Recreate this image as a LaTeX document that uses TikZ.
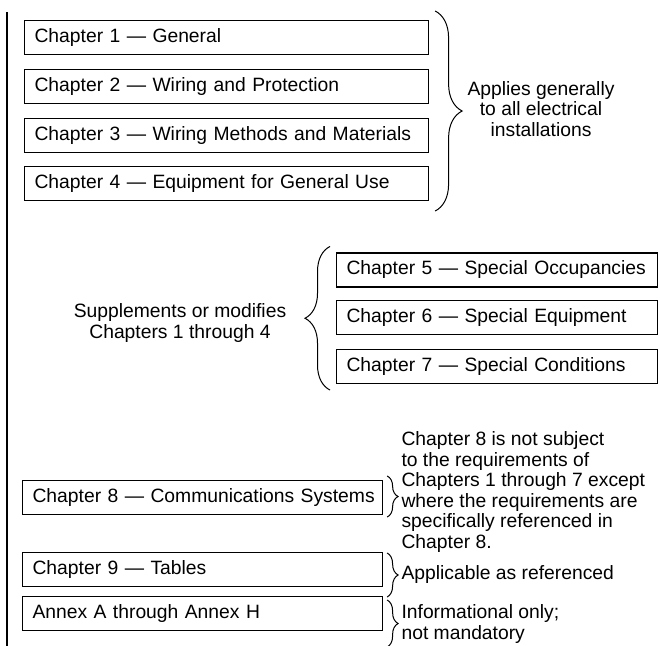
\documentclass[tikz,border=0pt]{standalone}
\usepackage{fontspec}
\setmainfont{Liberation Sans}
\usetikzlibrary{
    decorations.pathreplacing,
    calc,
    positioning
}

\tikzset{
    chap/.style={draw, line width=1.1pt, anchor=west, inner xsep=10pt, inner ysep=0pt, minimum height=34pt, align=left, text width=#1,
        execute at begin node=\hbox\bgroup, execute at end node=\egroup},
    chap/.default=384pt,
    grp/.style={decorate, decoration={brace, amplitude=#1}, line width=1pt},
    grp/.default=11pt
}

\begin{document}
\begin{tikzpicture}[x=1pt, y=-1pt, every node/.style={font=\fontsize{19.3}{20.6}\selectfont}]
                        \useasboundingbox (0,0) rectangle (660,645);
                        \coordinate (top) at (7,12);
                        \coordinate (bot) at (7,646);

                        \node[chap] (c1) at (24,37.5) {Chapter 1 — General};
                        \node[chap] (c2) at (24,86.5) {Chapter 2 — Wiring and Protection};
                        \node[chap] (c3) at (24,135.5) {Chapter 3 — Wiring Methods and Materials};
                        \node[chap] (c4) at (24,183.5) {Chapter 4 — Equipment for General Use};
                        \node[chap=301pt] (c5) at (336,270) {Chapter 5 — Special Occupancies};
                        \node[chap=301pt] (c6) at (336,317.5) {Chapter 6 — Special Equipment};
                        \node[chap=301pt] (c7) at (336,366.5) {Chapter 7 — Special Conditions};
                        \node[chap=340pt] (c8) at (22,497.5) {Chapter 8 — Communications Systems};
                        \node[chap=340pt] (c9) at (22,569.5) {Chapter 9 — Tables};
                        \node[chap=340pt] (c10) at (22,613.5) {Annex A through Annex H};

                        \node[align=center] (gen) at (541,109) {Applies generally\\to all electrical\\installations};
                        \node[align=center] (sup) at (180,323) {Supplements or modifies\\Chapters 1 through 4};
                        \node[anchor=west, align=left] (c8note) at (398,492) {Chapter 8 is not subject\\to the requirements of\\Chapters 1 through 7 except\\where the requirements are\\specifically referenced in\\Chapter 8.};
                        \node[anchor=west] (tabnote) at (398,574) {Applicable as referenced};
                        \node[anchor=west, align=left] (annote) at (398,624) {Informational only;\\not mandatory};

                        \draw[line width=1.1pt] (top) -- (bot);
                        \draw[grp=27pt] ($(c1.north east)+(6,-9)$) -- ($(c4.south east)+(6,10)$);
                        \draw[grp=25pt] ($(c7.south west)+(-6,6)$) -- ($(c5.north west)+(-6,-6)$);
                        \draw[grp] ($(c8.north east)+(4,-4)$) -- ($(c8.south east)+(4,2)$);
                        \draw[grp] ($(c9.north east)+(4,1)$) -- ($(c9.south east)+(4,10)$);
                        \draw[grp] ($(c10.north east)+(4,4)$) -- ($(c10.south east)+(4,16)$);
                    \end{tikzpicture}
\end{document}
